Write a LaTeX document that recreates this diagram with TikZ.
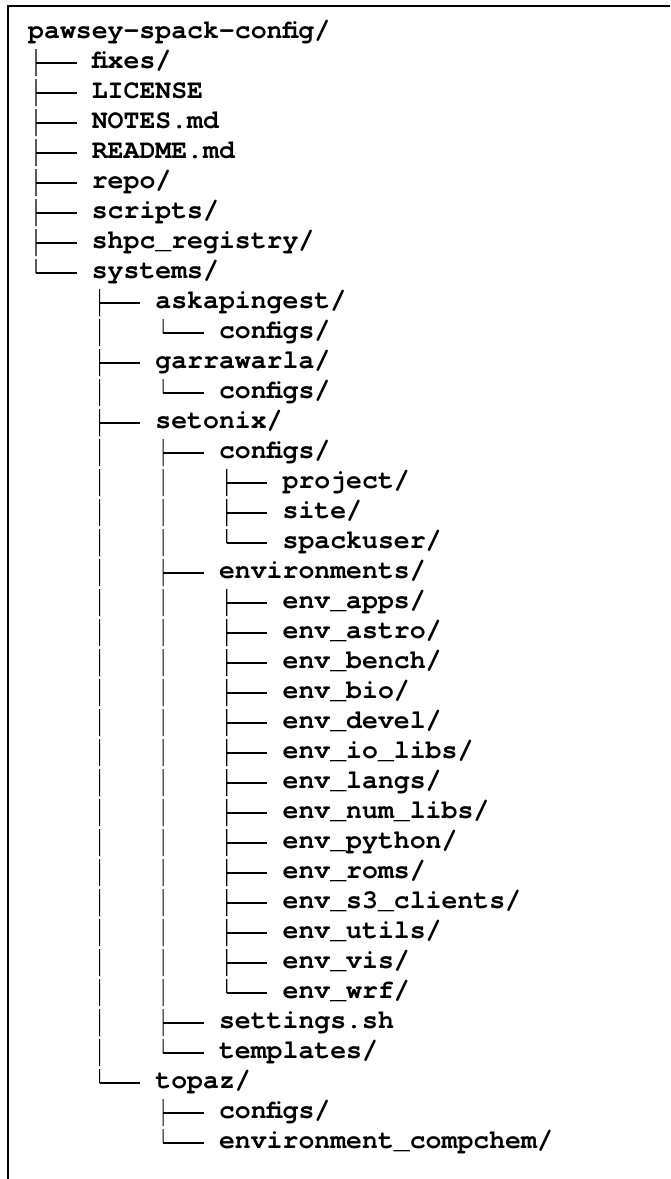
\documentclass[tikz,border=0pt]{standalone}
\usepackage{fontspec}
\setmonofont{TeX Gyre Cursor}
\usetikzlibrary{calc}
\newcommand\ent[4]{\node[item] (#1) at ({28+63.6*#2},{33+30*#3}) {#4};}
\begin{document}
\begin{tikzpicture}[x=1pt,y=-1pt,
  item/.style={anchor=west, inner sep=0pt, font=\ttfamily\bfseries\fontsize{26.5}{30}\selectfont, text height=19pt, text depth=7.7pt},
  vline/.style={line width=1.1pt, dash pattern=on 27pt off 3pt},
  hline/.style={line width=1.1pt},
  frame/.style={line width=2pt}]
\useasboundingbox (0,0) rectangle (670,1179);
\coordinate (fa) at (8,1179);
\coordinate (fb) at (8,5.5);
\coordinate (fc) at (670,5.5);
\draw[frame] (fa) -- (fb) -- (fc);
\ent{r0}{0}{0}{pawsey-spack-config/}
\ent{r1}{1}{1}{fixes/}
\ent{r2}{1}{2}{LICENSE}
\ent{r3}{1}{3}{NOTES.md}
\ent{r4}{1}{4}{README.md}
\ent{r5}{1}{5}{repo/}
\ent{r6}{1}{6}{scripts/}
\ent{r7}{1}{7}{shpc\_registry/}
\ent{r8}{1}{8}{systems/}
\ent{r9}{2}{9}{askapingest/}
\ent{r10}{3}{10}{configs/}
\ent{r11}{2}{11}{garrawarla/}
\ent{r12}{3}{12}{configs/}
\ent{r13}{2}{13}{setonix/}
\ent{r14}{3}{14}{configs/}
\ent{r15}{4}{15}{project/}
\ent{r16}{4}{16}{site/}
\ent{r17}{4}{17}{spackuser/}
\ent{r18}{3}{18}{environments/}
\ent{r19}{4}{19}{env\_apps/}
\ent{r20}{4}{20}{env\_astro/}
\ent{r21}{4}{21}{env\_bench/}
\ent{r22}{4}{22}{env\_bio/}
\ent{r23}{4}{23}{env\_devel/}
\ent{r24}{4}{24}{env\_io\_libs/}
\ent{r25}{4}{25}{env\_langs/}
\ent{r26}{4}{26}{env\_num\_libs/}
\ent{r27}{4}{27}{env\_python/}
\ent{r28}{4}{28}{env\_roms/}
\ent{r29}{4}{29}{env\_s3\_clients/}
\ent{r30}{4}{30}{env\_utils/}
\ent{r31}{4}{31}{env\_vis/}
\ent{r32}{4}{32}{env\_wrf/}
\ent{r33}{3}{33}{settings.sh}
\ent{r34}{3}{34}{templates/}
\ent{r35}{2}{35}{topaz/}
\ent{r36}{3}{36}{configs/}
\ent{r37}{3}{37}{environment\_compchem/}
% verticals: parent -> last child
\foreach \p/\c in {r0/r8, r8/r35, r9/r10, r11/r12, r13/r34, r14/r17, r18/r32, r35/r37}
  {\draw[vline] ($(\p.west)+(7.95,16)$) -- ($(\c.west)+(-55.65,0)$);}
% horizontals into each child
\foreach \c in {1,...,37}
  {\draw[hline] ($(r\c.west)+(-55.65,0)$) -- ($(r\c.west)+(-15.1,0)$);}
\end{tikzpicture}
\end{document}
